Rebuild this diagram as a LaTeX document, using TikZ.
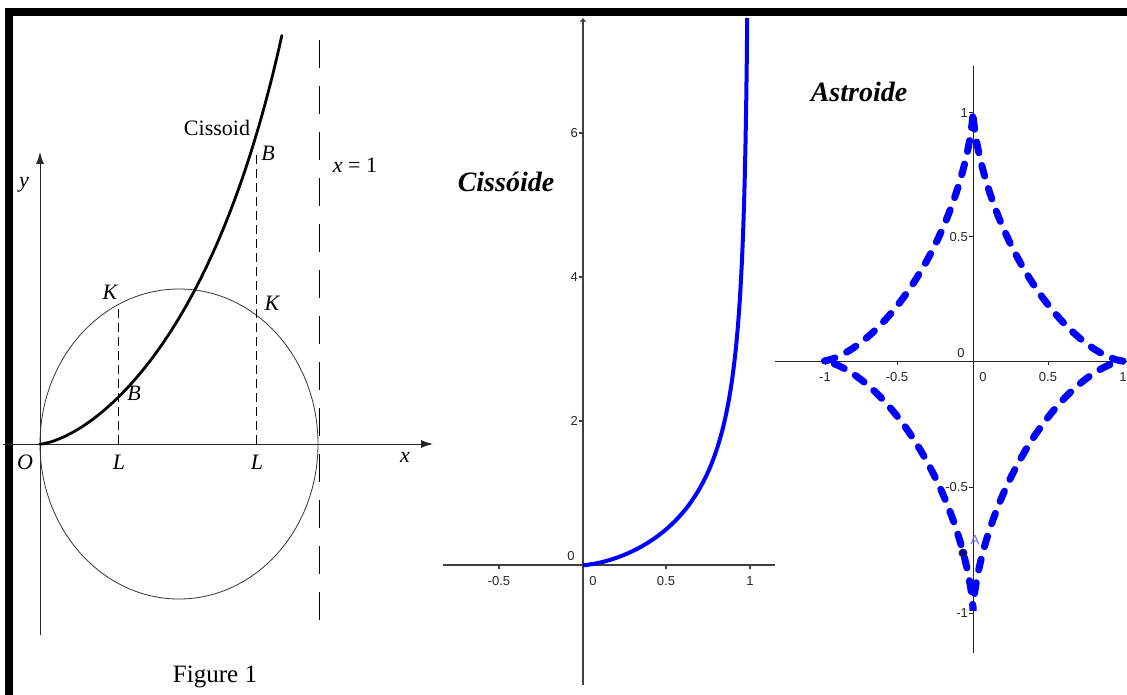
\documentclass[tikz,border=0pt]{standalone}
\usepackage{fontspec}
\setmainfont{Liberation Serif}
\newfontfamily\gsans{Liberation Sans}
\usetikzlibrary{arrows.meta}
\begin{document}
\begin{tikzpicture}[x=1pt,y=-1pt,
  ilbl/.style={font=\fontsize{22}{24}\selectfont\itshape, inner sep=0pt},
  rlbl/.style={font=\fontsize{22}{24}\selectfont, inner sep=0pt},
  thinax/.style={line width=0.9pt, black!85},
  ggax/.style={line width=1.1pt, black!75},
  ggnum/.style={font=\gsans\fontsize{13}{14}\selectfont, text=black!85, inner sep=0pt},
  title/.style={font=\fontsize{28}{30}\selectfont\bfseries\itshape, inner sep=0pt},
  shortdash/.style={line width=0.9pt, dash pattern=on 9pt off 5pt},
  longdash/.style={line width=1pt, dash pattern=on 28pt off 18pt},
]
\useasboundingbox (0,0) rectangle (1127,695);
% frame
\fill[black] (5,8) rectangle (1127,16);
\fill[black] (5,8) rectangle (13,695);

% ---------------- left figure ----------------
\coordinate (O) at (40,444);
\coordinate (ybot) at (40,635);
\coordinate (ytop) at (40,152);
\coordinate (xl) at (3,444);
\coordinate (xr) at (433,444);
\draw[thinax, -{Latex[length=12pt,width=8pt]}] (ybot) -- (ytop);
\draw[thinax, -{Latex[length=12pt,width=8pt]}] (xl) -- (xr);
\draw[line width=0.8pt, black!80] (179,444) ellipse [x radius=139, y radius=155];
\coordinate (K1) at (118,305);
\coordinate (L1) at (118,444);
\coordinate (B2) at (256,155);
\coordinate (L2) at (256,444);
\draw[shortdash] (L1) -- (K1);
\draw[shortdash] (L2) -- (B2);
\coordinate (d1) at (319,40);
\coordinate (d2) at (319,635);
\draw[longdash] (d1) -- (d2);
\draw[line width=2.8pt, line cap=round] plot[domain=0:2.42, samples=120]
  ({40+100*\x},{444-110.3*sqrt(\x*\x*\x/(3.45-\x))});
\node[rlbl] (cis) at (217,128) {Cissoid};
\node[ilbl] (bup) at (268,153) {B};
\node[rlbl] (x1) at (355,165) {\textit{x} = 1};
\node[ilbl] (ylab) at (24,185) {y};
\node[ilbl] (k1) at (110,292) {K};
\node[ilbl] (k2) at (272,303) {K};
\node[ilbl] (bdn) at (134,393) {B};
\node[ilbl] (olab) at (25,462) {O};
\node[ilbl] (l1) at (119,462) {L};
\node[ilbl] (l2) at (257,462) {L};
\node[ilbl] (xlab) at (405,457) {x};
\node[font=\fontsize{25}{27}\selectfont, inner sep=0pt] (fig) at (215,677) {Figure 1};

% ---------------- middle figure ----------------
\coordinate (myb) at (583,685);
\coordinate (myt) at (583,18);
\coordinate (mxl) at (443,565);
\coordinate (mxr) at (775,565);
\draw[ggax, -{Straight Barb[length=3pt,width=5pt]}] (myb) -- (myt);
\draw[ggax] (mxl) -- (mxr);
\foreach \yy/\t in {133/6,277/4,421/2} {
  \draw[ggax] (579,\yy) -- (583,\yy);
  \node[ggnum, anchor=east] at (578,\yy) {\t};
}
\node[ggnum] (m0y) at (571,556) {0};
\foreach \xx/\t in {499/-0.5,666/0.5,750/1} {
  \draw[ggax] (\xx,565) -- (\xx,569);
  \node[ggnum] at (\xx,581) {\t};
}
\node[ggnum] (m0x) at (593,581) {0};
\coordinate (ctop) at (747.2,18);
\draw[blue, line width=4pt] plot[domain=0:0.982, samples=240]
  ({583+167*\x},{565-72*sqrt(\x*\x*\x/(1-\x))}) -- (ctop);
\node[title] (tcis) at (506,182) {Cissóide};

% ---------------- right figure ----------------
\coordinate (ryb) at (973,653);
\coordinate (ryt) at (973,66);
\coordinate (rxl) at (775,361);
\coordinate (rxr) at (1127,361);
\draw[line width=1pt, black!85] (ryb) -- (ryt);
\draw[line width=1pt, black!85] (rxl) -- (rxr);
\foreach \xx/\t in {825/-1,897/-0.5,1048/0.5,1123/1} {
  \draw[line width=1pt, black!85] (\xx,361) -- (\xx,365);
  \node[ggnum] at (\xx,377) {\t};
}
\node[ggnum] (r0x) at (983,377) {0};
\foreach \yy/\t in {113/1,237/0.5,487/-0.5,613/-1} {
  \draw[line width=1pt, black!85] (969,\yy) -- (973,\yy);
  \node[ggnum, anchor=east] at (968,\yy) {\t};
}
\node[ggnum] (r0y) at (961,353) {0};
\draw[blue, line width=7pt, line cap=round, dash pattern=on 11pt off 13pt]
  plot[domain=0:360, samples=300]
  ({973+150*cos(\x)*cos(\x)*cos(\x)},{361-250*sin(\x)*sin(\x)*sin(\x)});
\node[draw=black!80, fill=blue!70!black, circle, minimum size=8pt, inner sep=0pt, line width=1pt] (A) at (963,553) {};
\node[font=\gsans\fontsize{13}{14}\selectfont, text=blue!60, inner sep=0pt] (Alab) at (975,540) {A};
\node[title] (tast) at (859,92) {Astroide};
\end{tikzpicture}
\end{document}
